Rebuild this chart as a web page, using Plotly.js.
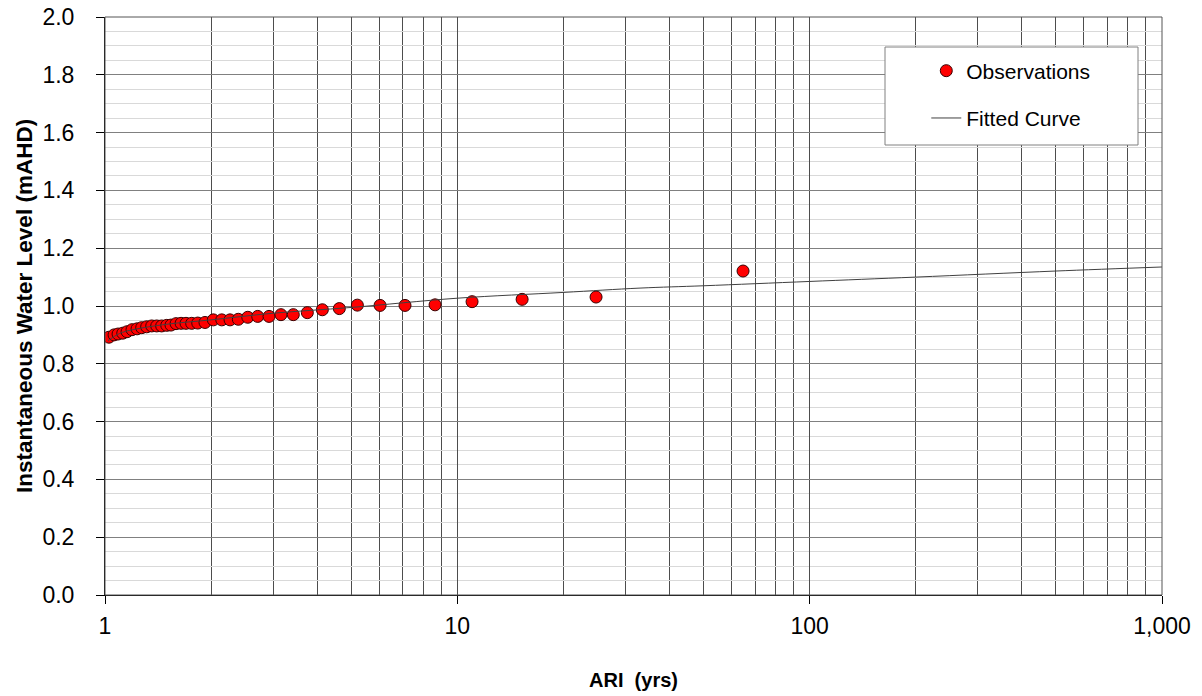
<!DOCTYPE html>
<html>
<head>
<meta charset="utf-8">
<script src="https://cdn.plot.ly/plotly-3.0.1.min.js"></script>
<style>html,body{margin:0;padding:0;background:#fff}#chart{width:1202px;height:696px}</style>
</head>
<body>
<div id="chart"></div>
<script>
// Observations (ARI years, water level mAHD)
const obsARI = [1.026, 1.061, 1.089, 1.123, 1.155, 1.193, 1.233, 1.271, 1.313, 1.357,
  1.402, 1.448, 1.497, 1.539, 1.591, 1.644, 1.698, 1.762, 1.833, 1.922,
  2.03, 2.145, 2.264, 2.39, 2.542, 2.713, 2.921, 3.158, 3.423, 3.752,
  4.139, 4.625, 5.203, 6.035, 7.104, 8.646, 11.01, 15.27, 24.76, 64.7];
const obsLevel = [0.892, 0.900, 0.903, 0.906, 0.911, 0.918, 0.921, 0.925, 0.928, 0.931,
  0.931, 0.931, 0.933, 0.934, 0.939, 0.940, 0.940, 0.940, 0.941, 0.943,
  0.952, 0.952, 0.952, 0.954, 0.961, 0.964, 0.964, 0.970, 0.970, 0.977,
  0.987, 0.991, 1.003, 1.002, 1.002, 1.004, 1.015, 1.023, 1.031, 1.121];
// Fitted curve
const fitARI = [1.02, 1.1, 1.2, 1.5, 2, 3, 5, 10, 20, 33, 50, 100, 200, 500, 1000];
const fitLevel = [0.880, 0.905, 0.918, 0.937, 0.952, 0.975, 0.995, 1.027, 1.047, 1.062, 1.070, 1.085, 1.100, 1.121, 1.135];
// Axis ticks
const xTickVals = [1, 10, 100, 1000];
const xTickText = ['1', '10', '100', '1,000'];

const font = 'Liberation Sans, Arial, sans-serif';
const traces = [
  {x: obsARI, y: obsLevel, type: 'scatter', mode: 'markers', name: 'Observations',
   legendgroup: 'a',
   marker: {color: '#ff0000', size: 12, line: {color: '#3a0000', width: 1}}},
  {x: fitARI, y: fitLevel, type: 'scatter', mode: 'lines', name: 'Fitted Curve',
   legendgroup: 'b', line: {color: '#404040', width: 1, shape: 'spline'}}
];
const layout = {
  width: 1202, height: 696,
  margin: {l: 105, r: 40, t: 17, b: 101},
  paper_bgcolor: '#fff', plot_bgcolor: '#fff',
  font: {family: font, size: 23, color: '#000'},
  showlegend: true,
  legend: {x: 0.777, y: 0.942, xanchor: 'left', yanchor: 'top',
           bgcolor: 'rgba(0,0,0,0)', borderwidth: 0, tracegroupgap: 17,
           font: {family: font, size: 21, color: '#000'}},
  xaxis: {type: 'log', range: [0, 3], tickvals: xTickVals, ticktext: xTickText,
          ticks: 'outside', ticklen: 8, tickcolor: '#000', ticklabelstandoff: 2,
          tickfont: {size: 23},
          showline: true, linecolor: '#000', linewidth: 1, mirror: false,
          showgrid: true, gridcolor: '#4d4d4d', gridwidth: 1, zeroline: false,
          minor: {dtick: 'D1', showgrid: true, gridcolor: '#4d4d4d', gridwidth: 1, ticks: ''},
          title: {text: '<b>ARI\u00a0\u00a0(yrs)</b>', font: {family: font, size: 20}, standoff: 35}},
  yaxis: {range: [0, 2], dtick: 0.2, tickformat: '.1f',
          ticks: 'outside', ticklen: 8, tickcolor: '#000', ticklabelstandoff: 17,
          tickfont: {size: 23},
          showline: true, linecolor: '#000', linewidth: 1,
          showgrid: true, gridcolor: '#808080', gridwidth: 1, zeroline: false,
          minor: {dtick: 0.05, showgrid: true, gridcolor: '#d9d9d9', gridwidth: 1, ticks: ''},
          title: {text: '<b>Instantaneous Water Level (mAHD)</b>', font: {family: font, size: 22.5}, standoff: 3}},
  shapes: [
    {type: 'rect', xref: 'paper', yref: 'paper', x0: 0, x1: 1, y0: 0, y1: 1,
     line: {color: '#555', width: 1}, layer: 'above'},
    {type: 'rect', xref: 'paper', yref: 'paper',
     x0: (885 - 105) / 1057, x1: (1138 - 105) / 1057,
     y0: (595 - 145) / 578, y1: (595 - 47) / 578,
     fillcolor: '#fff', line: {color: '#808080', width: 1}, layer: 'above'}
  ]
};
Plotly.newPlot('chart', traces, layout, {displayModeBar: false, staticPlot: true});
</script>
</body>
</html>
